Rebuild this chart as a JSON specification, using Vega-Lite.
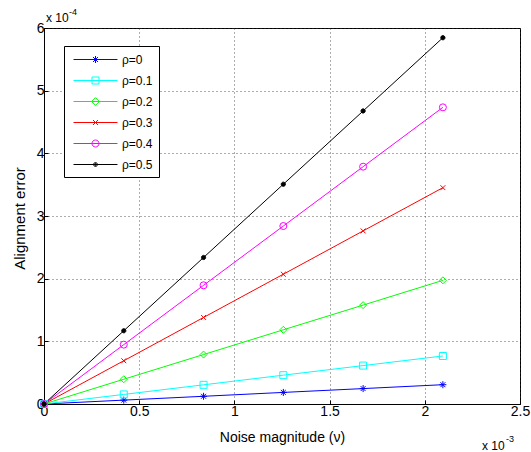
{
  "$schema": "https://vega.github.io/schema/vega-lite/v6.json",
  "width": 476,
  "height": 376,
  "autosize": {"type": "none"},
  "padding": {"left": 44, "top": 28, "right": 11, "bottom": 48},
  "background": "white",
  "config": {
    "font": "Liberation Sans",
    "view": {"stroke": "black", "strokeWidth": 1},
    "axis": {
      "domainColor": "black",
      "tickColor": "black",
      "labelColor": "black",
      "titleColor": "black",
      "labelFont": "Liberation Sans",
      "titleFont": "Liberation Sans",
      "labelFontSize": 14,
      "titleFontSize": 14,
      "titleFontWeight": "normal",
      "grid": true,
      "gridColor": "#333",
      "gridDash": [1, 3],
      "gridOpacity": 0.8,
      "tickSize": -4,
      "labelFlush": false,
      "labelOverlap": false
    }
  },
  "datasets": {
    "series": [
      {"rho": "ρ=0", "x": 0, "y": 0},
      {"rho": "ρ=0", "x": 0.000419, "y": 0.0000062},
      {"rho": "ρ=0", "x": 0.000838, "y": 0.0000123},
      {"rho": "ρ=0", "x": 0.001257, "y": 0.0000185},
      {"rho": "ρ=0", "x": 0.001676, "y": 0.0000246},
      {"rho": "ρ=0", "x": 0.002095, "y": 0.0000308},
      {"rho": "ρ=0.1", "x": 0, "y": 0},
      {"rho": "ρ=0.1", "x": 0.000419, "y": 0.0000153},
      {"rho": "ρ=0.1", "x": 0.000838, "y": 0.0000306},
      {"rho": "ρ=0.1", "x": 0.001257, "y": 0.000046},
      {"rho": "ρ=0.1", "x": 0.001676, "y": 0.0000613},
      {"rho": "ρ=0.1", "x": 0.002095, "y": 0.0000766},
      {"rho": "ρ=0.2", "x": 0, "y": 0},
      {"rho": "ρ=0.2", "x": 0.000419, "y": 0.0000395},
      {"rho": "ρ=0.2", "x": 0.000838, "y": 0.0000789},
      {"rho": "ρ=0.2", "x": 0.001257, "y": 0.0001184},
      {"rho": "ρ=0.2", "x": 0.001676, "y": 0.0001578},
      {"rho": "ρ=0.2", "x": 0.002095, "y": 0.0001973},
      {"rho": "ρ=0.3", "x": 0, "y": 0},
      {"rho": "ρ=0.3", "x": 0.000419, "y": 0.000069},
      {"rho": "ρ=0.3", "x": 0.000838, "y": 0.0001381},
      {"rho": "ρ=0.3", "x": 0.001257, "y": 0.0002071},
      {"rho": "ρ=0.3", "x": 0.001676, "y": 0.0002762},
      {"rho": "ρ=0.3", "x": 0.002095, "y": 0.0003452},
      {"rho": "ρ=0.4", "x": 0, "y": 0},
      {"rho": "ρ=0.4", "x": 0.000419, "y": 0.0000947},
      {"rho": "ρ=0.4", "x": 0.000838, "y": 0.0001894},
      {"rho": "ρ=0.4", "x": 0.001257, "y": 0.000284},
      {"rho": "ρ=0.4", "x": 0.001676, "y": 0.0003787},
      {"rho": "ρ=0.4", "x": 0.002095, "y": 0.0004734},
      {"rho": "ρ=0.5", "x": 0, "y": 0},
      {"rho": "ρ=0.5", "x": 0.000419, "y": 0.0001169},
      {"rho": "ρ=0.5", "x": 0.000838, "y": 0.0002338},
      {"rho": "ρ=0.5", "x": 0.001257, "y": 0.0003507},
      {"rho": "ρ=0.5", "x": 0.001676, "y": 0.0004676},
      {"rho": "ρ=0.5", "x": 0.002095, "y": 0.0005845}
    ],
    "notes": [
      {"id": "ybase", "label": "x 10", "px": 0, "py": 0.0006},
      {"id": "yexp", "label": "-4", "px": 0, "py": 0.0006},
      {"id": "xbase", "label": "x 10", "px": 0.0025, "py": 0},
      {"id": "xexp", "label": "-3", "px": 0.0025, "py": 0}
    ]
  },
  "encoding": {
    "x": {
      "field": "x",
      "type": "quantitative",
      "scale": {"domain": [0, 0.0025], "nice": false, "zero": false},
      "axis": {
        "title": "Noise magnitude (ν)",
        "values": [0, 0.0005, 0.001, 0.0015, 0.002, 0.0025],
        "labelExpr": "format(datum.value*1000, '~g')",
        "labelPadding": 4,
        "titleY": 33,
        "titleBaseline": "middle"
      }
    },
    "y": {
      "field": "y",
      "type": "quantitative",
      "scale": {"domain": [0, 0.0006], "nice": false, "zero": false},
      "axis": {
        "title": "Alignment error",
        "titleFontSize": 15,
        "values": [0, 0.0001, 0.0002, 0.0003, 0.0004, 0.0005, 0.0006],
        "labelExpr": "format(datum.value*10000, '~g')",
        "labelPadding": 4,
        "titleX": -25,
        "titleY": 190,
        "titleBaseline": "middle"
      }
    }
  },
  "layer": [
    {
      "data": {"name": "series"},
      "mark": {"type": "line", "strokeWidth": 1},
      "encoding": {
        "color": {
          "field": "rho",
          "type": "nominal",
          "scale": {
            "domain": ["ρ=0", "ρ=0.1", "ρ=0.2", "ρ=0.3", "ρ=0.4", "ρ=0.5"],
            "range": ["#0000ff", "#00ffff", "#00ff00", "#ff0000", "#ff00ff", "#000000"]
          },
          "legend": null
        }
      }
    },
    {
      "data": {"name": "series"},
      "mark": {"type": "point", "filled": false, "size": 49, "strokeWidth": 1, "opacity": 1},
      "encoding": {
        "color": {
          "field": "rho",
          "type": "nominal",
          "scale": {
            "domain": ["ρ=0", "ρ=0.1", "ρ=0.2", "ρ=0.3", "ρ=0.4", "ρ=0.5"],
            "range": ["#0000ff", "#00ffff", "#00ff00", "#ff0000", "#ff00ff", "#000000"]
          },
          "legend": null
        },
        "shape": {
          "field": "rho",
          "type": "nominal",
          "scale": {
            "domain": ["ρ=0", "ρ=0.1", "ρ=0.2", "ρ=0.3", "ρ=0.4", "ρ=0.5"],
            "range": [
              "M-1,0L1,0M0,-1L0,1M-0.7,-0.7L0.7,0.7M-0.7,0.7L0.7,-0.7",
              "square",
              "diamond",
              "M-0.7,-0.7L0.7,0.7M-0.7,0.7L0.7,-0.7",
              "circle",
              "M0.6,0A0.6,0.6,0,1,1,-0.6,0A0.6,0.6,0,1,1,0.6,0Z"
            ]
          },
          "legend": null
        },
        "fill": {
          "condition": {"test": "datum.rho === 'ρ=0.5'", "value": "#000000"},
          "value": "transparent"
        }
      }
    },
    {
      "data": {"name": "series"},
      "transform": [{"filter": "false"}],
      "mark": {"type": "point", "filled": false, "strokeWidth": 1, "opacity": 1},
      "encoding": {
        "color": {
          "field": "rho",
          "type": "nominal",
          "scale": {
            "domain": ["ρ=0", "ρ=0.1", "ρ=0.2", "ρ=0.3", "ρ=0.4", "ρ=0.5"],
            "range": ["#0000ff", "#00ffff", "#00ff00", "#ff0000", "#ff00ff", "#000000"]
          },
          "legend": {
            "title": null,
            "orient": "none",
            "legendX": 20,
            "legendY": 18,
            "direction": "vertical",
            "padding": 6,
            "strokeColor": "black",
            "fillColor": "white",
            "symbolSize": 196,
            "symbolStrokeWidth": 1,
            "labelFontSize": 12,
            "labelFont": "Liberation Sans",
            "labelColor": "black",
            "rowPadding": 7,
            "labelOffset": 19,
            "symbolOffset": 18
          }
        },
        "shape": {
          "field": "rho",
          "type": "nominal",
          "scale": {
            "domain": ["ρ=0", "ρ=0.1", "ρ=0.2", "ρ=0.3", "ρ=0.4", "ρ=0.5"],
            "range": [
              "M-3.14,0L3.14,0M-0.5,0L0.5,0M0,-0.5L0,0.5M-0.36,-0.36L0.36,0.36M-0.36,0.36L0.36,-0.36",
              "M-3.14,0L3.14,0M-0.5,-0.5L0.5,-0.5L0.5,0.5L-0.5,0.5Z",
              "M-3.14,0L3.14,0M0,-0.55L0.55,0L0,0.55L-0.55,0Z",
              "M-3.14,0L3.14,0M-0.36,-0.36L0.36,0.36M-0.36,0.36L0.36,-0.36",
              "M-3.14,0L3.14,0M0.5,0A0.5,0.5,0,1,1,-0.5,0A0.5,0.5,0,1,1,0.5,0Z",
              "M-3.14,0L3.14,0M0.28,0A0.28,0.28,0,1,1,-0.28,0A0.28,0.28,0,1,1,0.28,0M0.14,0A0.14,0.14,0,1,1,-0.14,0A0.14,0.14,0,1,1,0.14,0"
            ]
          },
          "legend": {
            "title": null,
            "orient": "none",
            "legendX": 20,
            "legendY": 18,
            "direction": "vertical",
            "padding": 6,
            "strokeColor": "black",
            "fillColor": "white",
            "symbolSize": 196,
            "symbolStrokeWidth": 1,
            "labelFontSize": 12,
            "labelFont": "Liberation Sans",
            "labelColor": "black",
            "rowPadding": 7,
            "labelOffset": 19,
            "symbolOffset": 18
          }
        }
      }
    },
    {
      "data": {"name": "notes"},
      "transform": [{"filter": "datum.id === 'ybase'"}],
      "mark": {"type": "text", "align": "left", "baseline": "middle", "fontSize": 12, "font": "Liberation Sans", "dx": 2, "dy": -10},
      "encoding": {
        "x": {"field": "px", "type": "quantitative"},
        "y": {"field": "py", "type": "quantitative"},
        "text": {"field": "label"}
      }
    },
    {
      "data": {"name": "notes"},
      "transform": [{"filter": "datum.id === 'yexp'"}],
      "mark": {"type": "text", "align": "left", "baseline": "middle", "fontSize": 9, "font": "Liberation Sans", "dx": 25, "dy": -16},
      "encoding": {
        "x": {"field": "px", "type": "quantitative"},
        "y": {"field": "py", "type": "quantitative"},
        "text": {"field": "label"}
      }
    },
    {
      "data": {"name": "notes"},
      "transform": [{"filter": "datum.id === 'xbase'"}],
      "mark": {"type": "text", "align": "left", "baseline": "middle", "fontSize": 12, "font": "Liberation Sans", "dx": -38, "dy": 42},
      "encoding": {
        "x": {"field": "px", "type": "quantitative"},
        "y": {"field": "py", "type": "quantitative"},
        "text": {"field": "label"}
      }
    },
    {
      "data": {"name": "notes"},
      "transform": [{"filter": "datum.id === 'xexp'"}],
      "mark": {"type": "text", "align": "left", "baseline": "middle", "fontSize": 9, "font": "Liberation Sans", "dx": -14, "dy": 35},
      "encoding": {
        "x": {"field": "px", "type": "quantitative"},
        "y": {"field": "py", "type": "quantitative"},
        "text": {"field": "label"}
      }
    }
  ],
  "resolve": {"scale": {"color": "independent", "shape": "independent"}}
}
